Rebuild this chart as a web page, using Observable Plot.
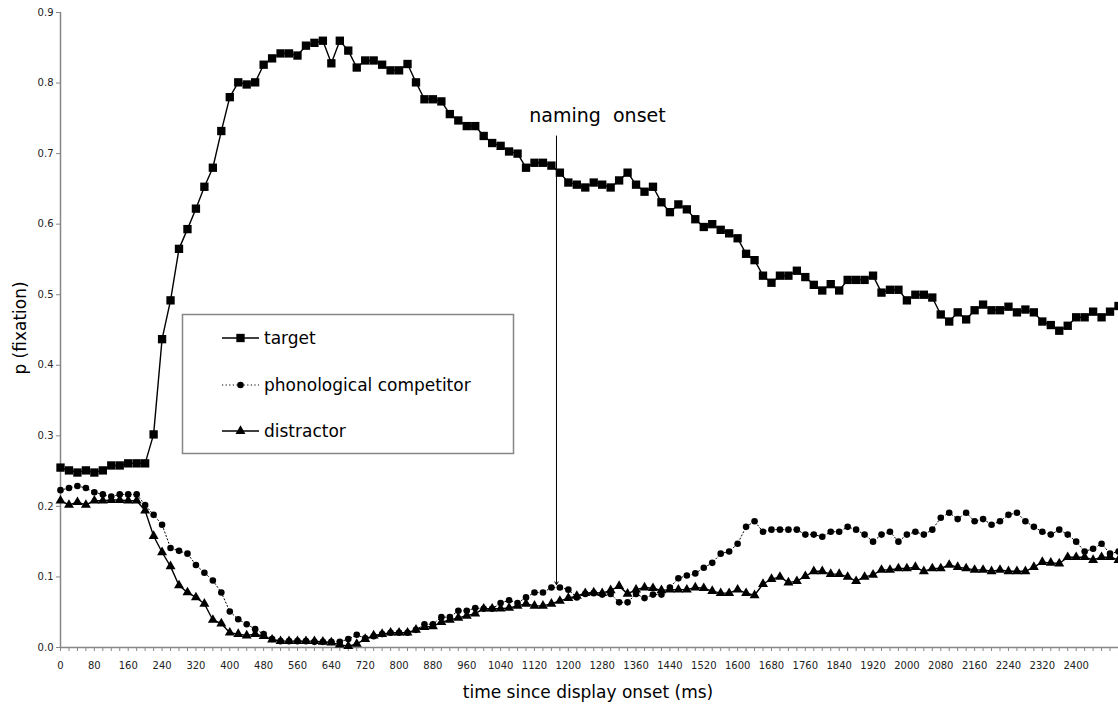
<!DOCTYPE html>
<html><head><meta charset="utf-8">
<script src="https://cdn.jsdelivr.net/npm/d3@7"></script>
<script src="https://cdn.jsdelivr.net/npm/@observablehq/plot@0.6"></script>
<style>
body{margin:0;background:#fff;}
#chart{position:relative;width:1118px;height:706px;}
</style>
</head><body><div id="chart"></div>
<script>
// time bins (ms), one every 20 ms
const times = d3.range(0, 2501, 20);
const xTickLabels = [0,80,160,240,320,400,480,560,640,720,800,880,960,1040,1120,1200,1280,1360,1440,1520,1600,1680,1760,1840,1920,2000,2080,2160,2240,2320,2400];
const yTicks = [0,0.1,0.2,0.3,0.4,0.5,0.6,0.7,0.8,0.9];
const seriesNames = ["target","phonological competitor","distractor"];
const namingOnset = 1172;

const target = [0.255,0.251,0.248,0.251,0.248,0.251,0.258,0.258,0.261,0.261,
0.261,0.302,0.437,0.492,0.565,0.593,0.622,0.653,0.680,0.732,
0.780,0.801,0.798,0.801,0.826,0.835,0.842,0.842,0.839,0.853,
0.857,0.860,0.828,0.860,0.846,0.822,0.832,0.832,0.826,0.818,
0.818,0.827,0.801,0.777,0.777,0.774,0.756,0.747,0.739,0.739,
0.725,0.715,0.711,0.703,0.700,0.680,0.687,0.687,0.683,0.673,
0.659,0.656,0.652,0.659,0.656,0.652,0.662,0.673,0.656,0.646,
0.653,0.631,0.617,0.628,0.621,0.607,0.596,0.600,0.592,0.587,
0.580,0.558,0.549,0.527,0.517,0.527,0.527,0.534,0.525,0.514,
0.506,0.515,0.506,0.521,0.521,0.521,0.527,0.503,0.507,0.507,
0.492,0.500,0.500,0.496,0.472,0.462,0.475,0.465,0.478,0.486,
0.478,0.478,0.483,0.475,0.479,0.475,0.462,0.457,0.449,0.456,
0.468,0.468,0.476,0.468,0.476,0.484];

const competitor = [0.223,0.226,0.229,0.226,0.220,0.217,0.214,0.217,0.217,0.217,
0.202,0.188,0.174,0.141,0.137,0.133,0.117,0.106,0.095,0.078,
0.051,0.040,0.033,0.026,0.019,0.012,0.009,0.009,0.009,0.009,
0.008,0.008,0.008,0.008,0.012,0.018,0.013,0.016,0.019,0.021,
0.021,0.021,0.025,0.033,0.033,0.043,0.043,0.052,0.052,0.056,
0.055,0.055,0.063,0.067,0.063,0.071,0.078,0.078,0.085,0.085,
0.082,0.071,0.076,0.077,0.075,0.076,0.064,0.064,0.076,0.070,
0.075,0.075,0.085,0.098,0.102,0.105,0.113,0.120,0.133,0.136,
0.147,0.171,0.179,0.164,0.167,0.167,0.167,0.167,0.160,0.160,
0.157,0.164,0.164,0.171,0.167,0.160,0.150,0.160,0.164,0.150,
0.160,0.164,0.160,0.167,0.184,0.191,0.182,0.191,0.179,0.182,
0.174,0.179,0.188,0.191,0.179,0.171,0.164,0.160,0.167,0.160,
0.150,0.136,0.140,0.147,0.133,0.136];

const distractor = [0.208,0.202,0.206,0.202,0.208,0.208,0.209,0.209,0.208,0.208,
0.194,0.158,0.135,0.115,0.088,0.078,0.071,0.062,0.039,0.034,
0.021,0.019,0.017,0.019,0.016,0.011,0.009,0.009,0.009,0.009,
0.009,0.008,0.007,0.004,0.002,0.005,0.012,0.017,0.019,0.021,
0.021,0.021,0.025,0.029,0.030,0.036,0.039,0.042,0.045,0.048,
0.055,0.055,0.055,0.056,0.059,0.062,0.059,0.059,0.062,0.066,
0.070,0.073,0.077,0.078,0.077,0.081,0.087,0.076,0.082,0.085,
0.084,0.081,0.082,0.082,0.082,0.085,0.084,0.080,0.077,0.077,
0.082,0.077,0.074,0.090,0.097,0.100,0.092,0.094,0.101,0.108,
0.108,0.104,0.104,0.100,0.094,0.100,0.103,0.110,0.110,0.112,
0.112,0.114,0.108,0.112,0.112,0.117,0.114,0.112,0.110,0.110,
0.108,0.110,0.108,0.108,0.108,0.114,0.121,0.120,0.119,0.128,
0.128,0.128,0.124,0.128,0.128,0.124];

const toRows = vals => times.map((t, i) => ({t, v: vals[i]}));
const tRows = toRows(target), cRows = toRows(competitor), dRows = toRows(distractor);

const axisGray = "#868686";
const FONT = "DejaVu Sans, Verdana, sans-serif";
const R_SQ = 4.7, R_CI = 3.3, R_TR = 3.7;

const plot = Plot.plot({
  width: 1118, height: 706,
  marginLeft: 60, marginRight: 0, marginTop: 12, marginBottom: 59,
  style: {fontFamily: FONT, fontSize: "10px", background: "#fff", color: "#222", overflow: "visible"},
  x: {type: "linear", domain: [0, 2500]},
  y: {type: "linear", domain: [0, 0.9]},
  marks: [
    Plot.axisY({ticks: yTicks, tickFormat: d3.format(".1f"), tickSize: 4, tickPadding: 3, stroke: axisGray, fill: "#222", label: null, fontSize: 10}),
    Plot.axisX({ticks: times, tickFormat: d => xTickLabels.includes(d) ? String(d) : "", tickSize: 4, tickPadding: 10, stroke: axisGray, fill: "#222", label: null, fontSize: 10}),
    Plot.ruleX([0], {stroke: axisGray, strokeWidth: 1.5}),
    Plot.ruleY([0], {stroke: axisGray, strokeWidth: 1.5}),
    Plot.line(cRows, {x: "t", y: "v", stroke: "#000", strokeWidth: 1, strokeDasharray: "1.2,2.4"}),
    Plot.dot(cRows, {x: "t", y: "v", symbol: "circle", r: R_CI, fill: "#000", stroke: "none"}),
    Plot.line(dRows, {x: "t", y: "v", stroke: "#000", strokeWidth: 1.4}),
    Plot.dot(dRows, {x: "t", y: "v", symbol: "triangle", r: R_TR, fill: "#000", stroke: "none"}),
    Plot.line(tRows, {x: "t", y: "v", stroke: "#000", strokeWidth: 1.4}),
    Plot.dot(tRows, {x: "t", y: "v", symbol: "square", r: R_SQ, fill: "#000", stroke: "none"}),
    Plot.arrow([namingOnset], {x1: d => d, x2: d => d, y1: 0.725, y2: 0.089, stroke: "#000", strokeWidth: 1, headLength: 5, bend: 0}),
    Plot.text([namingOnset], {x: d => d, y: 0.725, text: () => "naming\u00a0\u00a0onset", dx: 41, dy: -20, fontSize: 19, fill: "#000", fontFamily: FONT})
  ]
});

document.getElementById("chart").appendChild(plot);

// axis titles and legend
const svg = d3.select(plot);
svg.append("text").attr("x", 588).attr("y", 698).attr("text-anchor", "middle")
  .attr("font-family", FONT).attr("font-size", 17).attr("fill", "#000")
  .text("time since display onset (ms)");
svg.append("text").attr("transform", "translate(26,328) rotate(-90)").attr("text-anchor", "middle")
  .attr("font-family", FONT).attr("font-size", 17).attr("fill", "#000")
  .text("p (fixation)");

const lg = svg.append("g");
lg.append("rect").attr("x", 182.5).attr("y", 314.5).attr("width", 331).attr("height", 139)
  .attr("fill", "#fff").attr("stroke", axisGray).attr("stroke-width", 1.5);
const items = [
  {name: seriesNames[0], y: 338, sym: d3.symbolSquare, size: Math.PI*R_SQ*R_SQ, dash: null},
  {name: seriesNames[1], y: 385, sym: d3.symbolCircle, size: Math.PI*R_CI*R_CI, dash: "1.2,2.4"},
  {name: seriesNames[2], y: 431, sym: d3.symbolTriangle, size: Math.PI*R_TR*R_TR, dash: null}
];
items.forEach(it => {
  lg.append("line").attr("x1", 222).attr("x2", 259).attr("y1", it.y).attr("y2", it.y)
    .attr("stroke", "#000").attr("stroke-width", it.dash ? 1 : 1.4).attr("stroke-dasharray", it.dash);
  lg.append("path").attr("d", d3.symbol(it.sym, it.size)()).attr("transform", `translate(240.5,${it.y})`).attr("fill", "#000");
  lg.append("text").attr("x", 264).attr("y", it.y).attr("dy", "0.35em").attr("text-anchor", "start")
    .attr("font-family", FONT).attr("font-size", 17).attr("fill", "#000").text(it.name);
});
</script>
</body></html>
